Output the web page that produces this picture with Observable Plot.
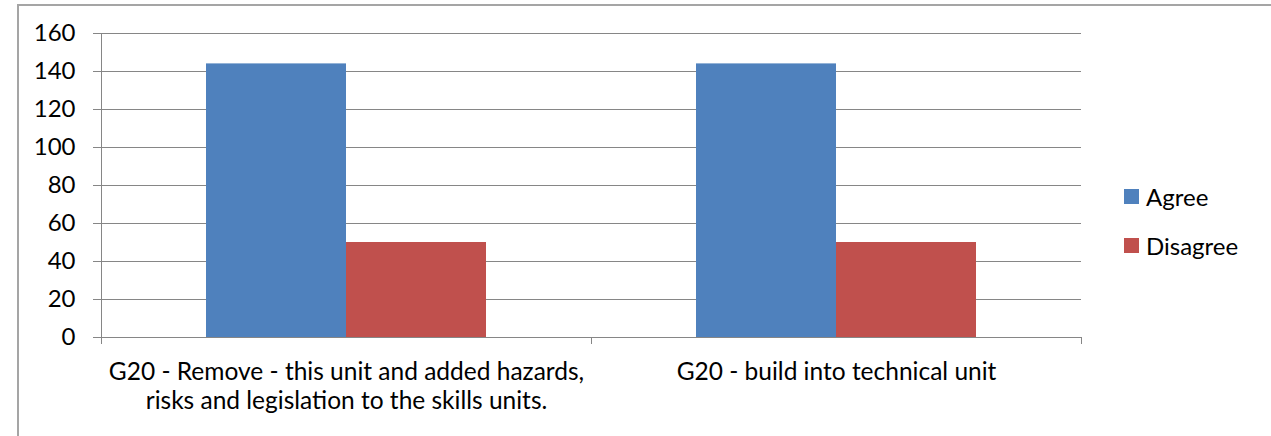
<!DOCTYPE html>
<html>
<head>
<meta charset="utf-8">
<script src="https://cdn.jsdelivr.net/npm/d3@7"></script>
<script src="https://cdn.jsdelivr.net/npm/@observablehq/plot@0.6"></script>
<style>
  html, body { margin: 0; padding: 0; background: #fff; }
  #wrap { position: relative; width: 1271px; height: 436px; overflow: hidden; font-family: Lato, sans-serif; }
  #border { position: absolute; left: 17px; top: 4px; width: 1400px; height: 600px; border: 2px solid #a5a5a5; box-sizing: border-box; }
  #chart { position: absolute; left: 0; top: 0; }
  #legend { position: absolute; left: 1124px; top: 181px; display: flex; flex-direction: column; gap: 19px; font-size: 24px; color: #000; }
  .item { display: flex; align-items: center; height: 30px; }
  .swatch { width: 15px; height: 15px; margin-right: 7px; }
</style>
</head>
<body>
<div id="wrap">
  <div id="border"></div>
  <div id="chart"></div>
  <div id="legend"></div>
</div>
<script>
const categories = [
  "G20 - Remove - this unit and added hazards,\nrisks and legislation to the skills units.",
  "G20 - build into technical unit"
];
const series = ["Agree", "Disagree"];
const agree = [144, 144];
const disagree = [50, 50];
const colors = ["#4F81BD", "#C0504D"];
const yTicks = [0, 20, 40, 60, 80, 100, 120, 140, 160];

const rows = categories.flatMap((c, i) => [
  {category: c, series: series[0], value: agree[i]},
  {category: c, series: series[1], value: disagree[i]}
]);

const chart = Plot.plot({
  width: 1110,
  height: 436,
  marginLeft: 101,
  marginRight: 29,
  marginTop: 33,
  marginBottom: 99,
  style: {fontFamily: "Lato, sans-serif", fontSize: "24px", color: "black", background: "transparent", overflow: "visible"},
  fx: {domain: categories, padding: 0, axis: null},
  x: {domain: series, paddingInner: 0, paddingOuter: 0.75, axis: null},
  y: {domain: [0, 160], axis: null},
  color: {domain: series, range: colors},
  marks: [
    Plot.ruleY(yTicks.slice(1), {stroke: "#868686"}),
    Plot.barY(rows, {fx: "category", x: "series", y: "value", fill: "series"}),
    Plot.ruleY([0], {stroke: "#868686"}),
    Plot.axisY(yTicks, {tickSize: 8, tickPadding: 18, stroke: "#868686", fill: "black", fontSize: 24, label: null, tickFormat: d => String(d)}),
    Plot.text(categories, {fx: d => d, text: d => d, frameAnchor: "bottom", lineAnchor: "top", dy: 22, fontSize: 24.5, lineHeight: 1.17, fill: "black"})
  ]
});

// axis line and category-boundary ticks, positioned from Plot's scales
const svg = d3.select(chart);
const fxs = chart.scale("fx");
const ys = chart.scale("y");
const y0 = ys.apply(0), yTop = ys.apply(160);
const g = svg.append("g").attr("stroke", "#868686").attr("stroke-width", 1);
const xLeft = fxs.apply(categories[0]);
g.append("line").attr("x1", xLeft + 0.5).attr("x2", xLeft + 0.5).attr("y1", yTop).attr("y2", y0);
const bounds = categories.map(c => fxs.apply(c));
bounds.push(fxs.apply(categories[categories.length - 1]) + fxs.bandwidth);
bounds.forEach(b => {
  g.append("line").attr("x1", b + 0.5).attr("x2", b + 0.5).attr("y1", y0).attr("y2", y0 + 7);
});

document.getElementById("chart").appendChild(chart);

const legend = document.getElementById("legend");
series.forEach((s, i) => {
  const item = document.createElement("div");
  item.className = "item";
  const sw = document.createElement("div");
  sw.className = "swatch";
  sw.style.background = colors[i];
  const label = document.createElement("span");
  label.textContent = s;
  item.appendChild(sw);
  item.appendChild(label);
  legend.appendChild(item);
});
</script>
</body>
</html>
